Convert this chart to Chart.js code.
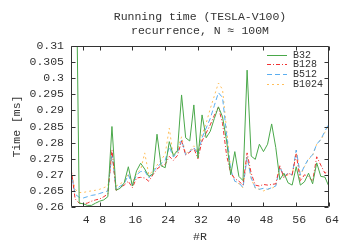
<!DOCTYPE html>
<html>
<head>
<meta charset="utf-8">
<script src="https://cdn.jsdelivr.net/npm/chart.js@4.4.1/dist/chart.umd.min.js"></script>
<style>
html,body{margin:0;padding:0;background:#fff;}
#wrap{width:350px;height:245px;}
</style>
</head>
<body>
<div id="wrap"><canvas id="c" width="350" height="245"></canvas></div>
<script>
const xValues = [1,2,3,4,5,6,7,8,9,10,11,12,13,14,15,16,17,18,19,20,21,22,23,24,25,26,27,28,29,30,31,32,33,34,35,36,37,38,39,40,41,42,43,44,45,46,47,48,49,50,51,52,53,54,55,56,57,58,59,60,61,62,63,64];

const b32 = [0.38,0.366,0.2612,0.2610,0.2605,0.2605,0.2612,0.2618,0.2622,0.2632,
0.2850,0.2652,0.2658,0.2675,0.2725,0.2665,0.2712,0.2736,0.2718,0.2695,
0.2702,0.2826,0.2728,0.2722,0.2803,0.2760,0.2775,0.2948,0.2815,0.2805,
0.2917,0.2752,0.2886,0.2815,0.2835,0.2875,0.2911,0.2880,0.2805,0.2700,
0.2772,0.2695,0.2682,0.3025,0.2758,0.2748,0.2795,0.2772,0.2795,0.2858,
0.2785,0.2685,0.2705,0.2675,0.2668,0.2725,0.2668,0.2678,0.2705,0.2672,
0.2737,0.2695,0.2693,0.2663];

const b128 = [0.2725,0.2625,0.2612,0.2610,0.2612,0.2618,0.2622,0.2625,0.2632,0.2640,
0.2778,0.2652,0.2660,0.2668,0.2680,0.2660,0.2690,0.2692,0.2690,0.2680,
0.2700,0.2718,0.2728,0.2732,0.2757,0.2745,0.2760,0.2805,0.2762,0.2770,
0.2782,0.2750,0.2805,0.2830,0.2855,0.2885,0.2910,0.2860,0.2760,0.2705,
0.2688,0.2680,0.2668,0.2768,0.2705,0.2668,0.2665,0.2670,0.2668,0.2670,
0.2672,0.2728,0.2690,0.2705,0.2700,0.2765,0.2680,0.2700,0.2695,0.2680,
0.2756,0.2730,0.2705,0.2712];

const b512 = [0.2710,0.2640,0.2630,0.2628,0.2632,0.2636,0.2638,0.2642,0.2646,0.2650,
0.2768,0.2655,0.2665,0.2672,0.2700,0.2668,0.2700,0.2710,0.2712,0.2690,
0.2708,0.2725,0.2735,0.2745,0.2787,0.2755,0.2770,0.2808,0.2762,0.2772,
0.2785,0.2765,0.2815,0.2845,0.2875,0.2915,0.2955,0.2940,0.2825,0.2715,
0.2680,0.2675,0.2660,0.2755,0.2690,0.2660,0.2655,0.2658,0.2655,0.2660,
0.2665,0.2725,0.2695,0.2705,0.2700,0.2777,0.2700,0.2727,0.2750,0.2762,
0.2795,0.2810,0.2835,0.2860];

const b1024 = [0.2715,0.2655,0.2645,0.2645,0.2648,0.2650,0.2652,0.2655,0.2660,0.2665,
0.2758,0.2665,0.2672,0.2680,0.2702,0.2675,0.2705,0.2715,0.2768,0.2700,
0.2712,0.2730,0.2745,0.2765,0.2845,0.2755,0.2780,0.2818,0.2765,0.2775,
0.2790,0.2770,0.2825,0.2860,0.2905,0.2945,0.2985,0.2965,0.2840,0.2718,
0.2680,0.2672,0.2660,0.2758,0.2688,0.2658,0.2655,0.2650,0.2655,0.2658,
0.2665,0.2722,0.2695,0.2700,0.2698,0.2775,0.2698,0.2725,0.2748,0.2760,
0.2795,0.2808,0.2832,0.2858];

const seriesNames = ["B32","B128","B512","B1024"];
const xTickValues = [4,8,16,24,32,40,48,56,64];
const xTickLabels = ["4","8","16","24","32","40","48","56","64"];
const yTickLabels = ["0.26","0.265","0.27","0.275","0.28","0.285","0.29","0.295","0.3","0.305","0.31"];
const titleLines = ["Running time (TESLA-V100)", "recurrence, N \u2248 100M"];
const xTitle = "#R";
const yTitle = "Time [ms]";

const FONT = "'Liberation Mono', 'Courier New', monospace";
const TXT = '#333';

function pts(arr){ return arr.map((v,i)=>({x:xValues[i], y:v})); }

const styles = [
  {color:'#4aa84a', dash:[]},
  {color:'#f03232', dash:[4,2,1,2]},
  {color:'#5aaef0', dash:[5,3]},
  {color:'#ffbe5a', dash:[2,3]}
];
const allSeries = [b32,b128,b512,b1024];

const datasets = allSeries.map((s,i)=>({
  label: seriesNames[i],
  data: pts(s),
  borderColor: styles[i].color,
  borderDash: styles[i].dash,
  borderWidth: 1,
  pointRadius: 0,
  tension: 0,
  fill: false
}));

const framePlugin = {
  id:'frame',
  afterDraw(chart){
    const {ctx, chartArea:a, scales} = chart;
    ctx.save();
    ctx.strokeStyle = '#333';
    ctx.lineWidth = 1;
    ctx.setLineDash([]);
    const L = Math.round(a.left)+0.5, R = Math.round(a.right)-0.5, T = Math.round(a.top)+0.5, B = Math.round(a.bottom)-0.5;
    ctx.beginPath();
    ctx.rect(L, T, R-L, B-T);
    ctx.stroke();
    const tl = 4;
    ctx.beginPath();
    scales.x.ticks.forEach(t=>{
      const px = Math.round(scales.x.getPixelForValue(t.value))+0.5;
      ctx.moveTo(px,B); ctx.lineTo(px,B-tl);
      ctx.moveTo(px,T); ctx.lineTo(px,T+tl);
    });
    scales.y.ticks.forEach(t=>{
      const py = Math.round(scales.y.getPixelForValue(t.value))+0.5;
      ctx.moveTo(L,py); ctx.lineTo(L+tl,py);
      ctx.moveTo(R,py); ctx.lineTo(R-tl,py);
    });
    ctx.stroke();
    // title
    ctx.fillStyle = TXT;
    ctx.font = "11.5px " + FONT;
    ctx.textAlign = 'center';
    ctx.textBaseline = 'middle';
    const cx = (a.left + a.right)/2;
    ctx.fillText(titleLines[0], cx, 17);
    ctx.fillText(titleLines[1], cx, 31);
    // legend
    ctx.font = "10px " + FONT;
    ctx.textAlign = 'left';
    chart.data.datasets.forEach((d,i)=>{
      const y = a.top + 8.5 + i*9.7;
      ctx.strokeStyle = d.borderColor;
      ctx.setLineDash(d.borderDash);
      ctx.beginPath();
      ctx.moveTo(a.right-62, Math.round(y)+0.5);
      ctx.lineTo(a.right-42, Math.round(y)+0.5);
      ctx.stroke();
      ctx.fillStyle = TXT;
      ctx.fillText(d.label, a.right-36, y+0.5);
    });
    ctx.restore();
  }
};

new Chart(document.getElementById('c'), {
  type:'line',
  data:{datasets},
  plugins:[framePlugin],
  options:{
    responsive:false,
    animation:false,
    devicePixelRatio:1,
    layout:{padding:{top:46,right:21,left:0,bottom:0}},
    plugins:{legend:{display:false}, tooltip:{enabled:false}, title:{display:false}},
    scales:{
      x:{
        type:'linear', min:1, max:64,
        afterBuildTicks(s){ s.ticks = xTickValues.map(v=>({value:v})); },
        afterFit(s){ s.height = 38; },
        grid:{display:false, drawTicks:false},
        border:{display:false},
        ticks:{autoSkip:false, maxRotation:0, padding:6, labelOffset:3, color:TXT,
          font:{family:FONT, size:11.5},
          callback(v, i){ return xTickLabels[xTickValues.indexOf(v)]; }},
        title:{display:true, text:xTitle, color:TXT, font:{family:FONT, size:11.5}, padding:{top:0,bottom:1.5}}
      },
      y:{
        type:'linear', min:0.26, max:0.31,
        afterBuildTicks(s){ s.ticks = yTickLabels.map(l=>({value:Number(l)})); },
        afterFit(s){ s.width = 71; },
        grid:{display:false, drawTicks:false},
        border:{display:false},
        ticks:{autoSkip:false, padding:7, color:TXT, font:{family:FONT, size:11.5},
          callback(v){ const i = yTickLabels.findIndex(l=>Math.abs(Number(l)-v)<1e-9); return i>=0 ? yTickLabels[i] : ''; }},
        title:{display:true, text:yTitle, color:TXT, font:{family:FONT, size:11.5}, padding:{top:10,bottom:0}}
      }
    }
  }
});
</script>
</body>
</html>
